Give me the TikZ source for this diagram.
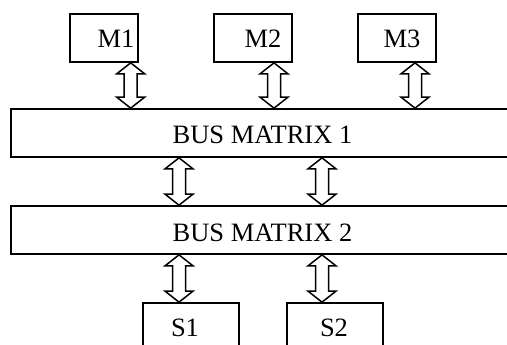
\documentclass[tikz,border=0pt]{standalone}
\usepackage{fontspec}
\setmainfont{Liberation Serif}
\usepackage{tikz}
\usetikzlibrary{calc}

% hollow two-way bus arrow between two boxes, at a given x
\newcommand{\busarrow}[3]{%
  \coordinate (ax) at (#1,0);
  \coordinate (ta) at (#2.south -| ax);
  \coordinate (tb) at (#3.north -| ax);
  \draw[busline] (ta) -- ++(-14,11) -- ++(7.5,0) -- ($(tb)+(-6.5,-11)$) -- ++(-7.5,0)
    -- (tb) -- ++(14,-11) -- ++(-7.5,0) -- ($(ta)+(6.5,11)$) -- ++(7.5,0) -- cycle;
}

\tikzset{
  unit/.style={draw, line width=1.7pt, inner sep=0pt, minimum height=48pt},
  lbl/.style={inner sep=0pt, font=\fontsize{26.5}{31}\selectfont},
  busline/.style={draw, line width=1.5pt, fill=white, line join=miter}
}

\begin{document}
\begin{tikzpicture}[x=1pt, y=-1pt]
    \useasboundingbox (0,0) rectangle (507,345);
    % masters
    \node[unit, minimum width=68pt] (m1) at (104,38) {};
    \node[unit, minimum width=78pt] (m2) at (253,38) {};
    \node[unit, minimum width=78pt] (m3) at (397,38) {};
    \node[lbl] (m1txt) at (116,38.5) {M1};
    \node[lbl] (m2txt) at (263,38.5) {M2};
    \node[lbl] (m3txt) at (402,38.5) {M3};
    % bus matrices
    \node[unit, minimum width=502pt] (bm1) at (262,133) {};
    \node[unit, minimum width=502pt] (bm2) at (262,230) {};
    \node[lbl] (bm1txt) at (262.5,135) {BUS MATRIX 1};
    \node[lbl] (bm2txt) at (262.5,232.5) {BUS MATRIX 2};
    % slaves
    \node[unit, minimum width=96pt] (s1) at (191,327) {};
    \node[unit, minimum width=96pt] (s2) at (335,327) {};
    \node[lbl] (s1txt) at (185,328) {S1};
    \node[lbl] (s2txt) at (334,328) {S2};
    % connections
    \busarrow{130.7}{m1}{bm1}
    \busarrow{274}{m2}{bm1}
    \busarrow{415}{m3}{bm1}
    \busarrow{179}{bm1}{bm2}
    \busarrow{322}{bm1}{bm2}
    \busarrow{179}{bm2}{s1}
    \busarrow{322}{bm2}{s2}
  \end{tikzpicture}
\end{document}
